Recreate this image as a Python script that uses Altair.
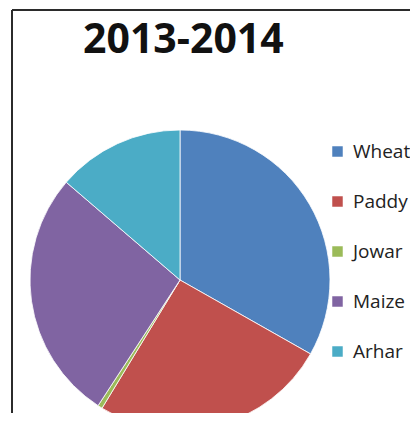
import altair as alt
import pandas as pd

title_text = "2013-2014"
crops = ["Wheat", "Paddy", "Jowar", "Maize", "Arhar"]
shares = [33.2, 25.5, 0.5, 27.1, 13.7]
colors = ["#4F81BD", "#C0504D", "#9BBB59", "#8064A2", "#4BACC6"]

W = 398
H = 403

df = pd.DataFrame({"crop": crops, "share": shares, "order": list(range(len(crops)))})

pie = alt.Chart(df).mark_arc(radius=150, stroke="white", strokeWidth=0.8).encode(
    theta=alt.Theta("share:Q", stack=True),
    order=alt.Order("order:Q"),
    color=alt.Color(
        "crop:N",
        sort=crops,
        scale=alt.Scale(domain=crops, range=colors),
        legend=alt.Legend(
            title=None,
            orient="none",
            legendX=316,
            legendY=132,
            symbolType="square",
            symbolSize=110,
            symbolStrokeWidth=0,
            symbolOpacity=1,
            labelFont="Open Sans",
            labelFontSize=19,
            labelColor="#222222",
            labelOffset=6,
            rowPadding=30,
            padding=0,
        ),
    ),
    x=alt.value(168),
    y=alt.value(270),
)

title_df = pd.DataFrame({"t": [title_text]})
title = alt.Chart(title_df).mark_text(
    font="Open Sans", fontSize=41, fontWeight="bold", color="#111111",
    align="left", baseline="alphabetic",
).encode(text="t:N", x=alt.value(71), y=alt.value(43))

one = pd.DataFrame({"a": [0]})
left_border = alt.Chart(one).mark_rule(color="#2b2b2b", strokeWidth=2).encode(
    x=alt.value(0), y=alt.value(0), y2=alt.value(H + 20)
)
top_border = alt.Chart(one).mark_rule(color="#2b2b2b", strokeWidth=2).encode(
    x=alt.value(0), x2=alt.value(W + 20), y=alt.value(0)
)

chart = alt.layer(pie, title, left_border, top_border).properties(
    width=W,
    height=H,
    autosize=alt.AutoSizeParams(type="none"),
    padding={"left": 4, "top": 2, "right": 0, "bottom": 0},
).configure_view(stroke=None)

chart.save("out.html", embed_options={"renderer": "svg", "actions": False})
